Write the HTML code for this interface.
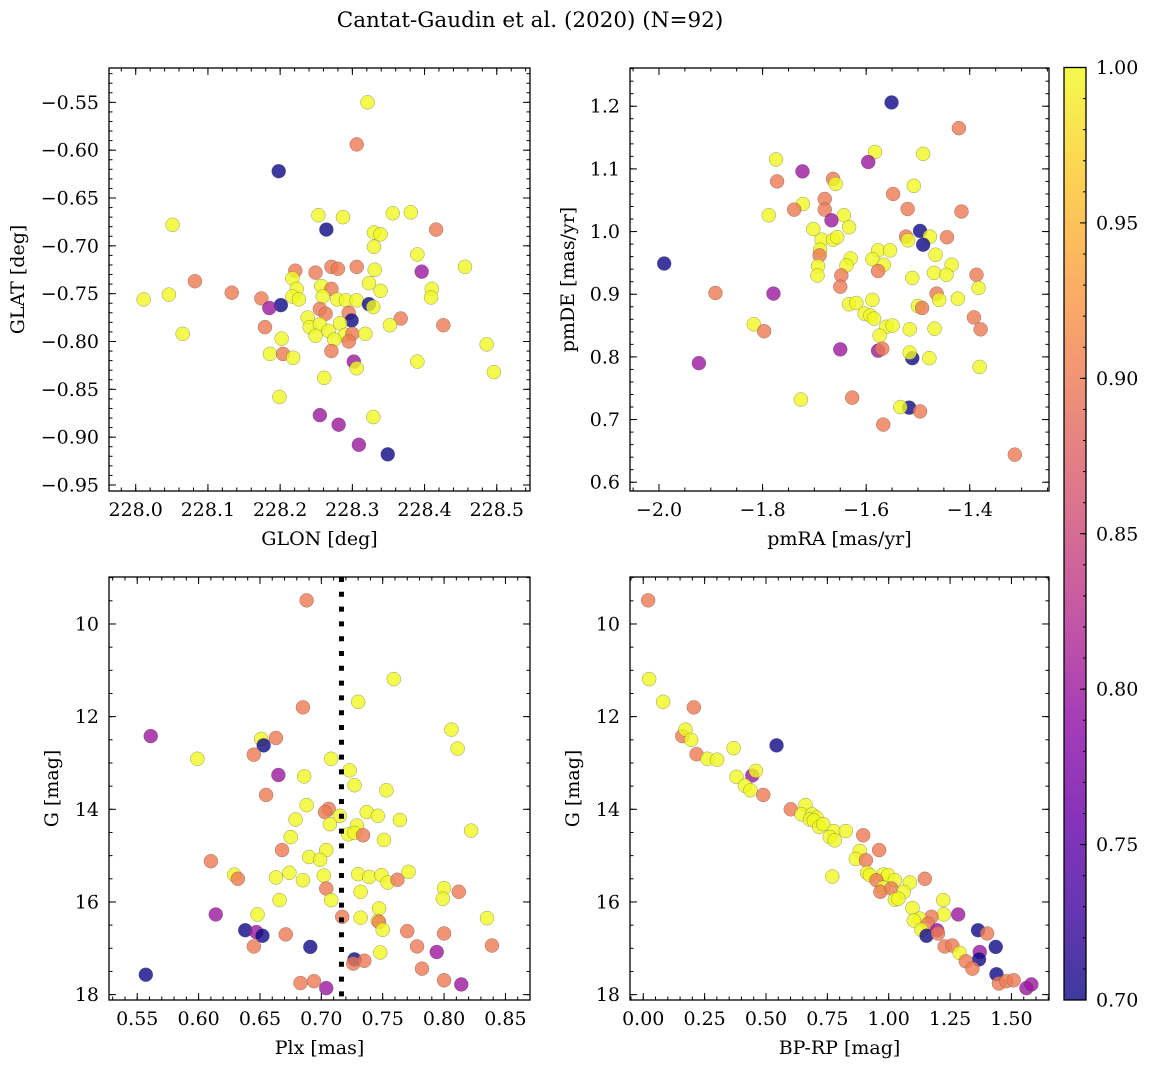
<!DOCTYPE html>
<html><head><meta charset="utf-8"><style>
html,body{margin:0;padding:0;background:#fff;}
svg{display:block;font-family:"DejaVu Serif","Liberation Serif",serif;}
</style></head><body>
<svg id="fig" width="1149" height="1067" viewBox="0 0 1149 1067" xmlns="http://www.w3.org/2000/svg">
<text x="530" y="27" font-size="21.5" text-anchor="middle">Cantat-Gaudin et al. (2020) (N=92)</text>
</svg>
<script>
// ---- Panel 1: GLON vs GLAT ----
const glon = [228.321,228.306,228.198,228.051,228.253,228.287,228.356,228.381,228.264,228.416,228.330,228.339,228.330,228.390,228.456,228.221,228.249,228.271,228.280,228.306,228.331,228.396,228.082,228.217,228.323,228.339,228.410,228.409,228.133,228.046,228.011,228.223,228.257,228.271,228.217,228.226,228.259,228.279,228.291,228.306,228.174,228.201,228.185,228.323,228.329,228.255,228.263,228.295,228.238,228.299,228.283,228.179,228.241,228.255,228.267,228.249,228.290,228.300,228.318,228.367,228.352,228.426,228.065,228.202,228.275,228.295,228.271,228.486,228.186,228.204,228.218,228.302,228.306,228.390,228.496,228.261,228.199,228.255,228.329,228.281,228.309,228.349];
const glat = [-0.550,-0.594,-0.622,-0.678,-0.668,-0.670,-0.666,-0.665,-0.683,-0.683,-0.686,-0.688,-0.701,-0.709,-0.722,-0.726,-0.728,-0.722,-0.724,-0.722,-0.725,-0.727,-0.737,-0.734,-0.739,-0.747,-0.745,-0.754,-0.749,-0.751,-0.756,-0.745,-0.742,-0.745,-0.753,-0.756,-0.753,-0.756,-0.757,-0.757,-0.755,-0.762,-0.765,-0.761,-0.764,-0.766,-0.771,-0.770,-0.775,-0.778,-0.781,-0.785,-0.785,-0.782,-0.789,-0.794,-0.793,-0.792,-0.792,-0.776,-0.783,-0.783,-0.792,-0.797,-0.798,-0.800,-0.810,-0.803,-0.813,-0.813,-0.817,-0.821,-0.828,-0.821,-0.832,-0.838,-0.858,-0.877,-0.879,-0.887,-0.908,-0.918];
const prob1 = [1,0.9,0.7,1,1,1,1,1,0.7,0.9, 1,1,1,1,1,0.9,0.9,0.9,0.9,0.9, 1,0.8,0.9,1,1,1,1,1,0.9,1, 1,1,1,0.9,1,1,1,1,1,1, 0.9,0.7,0.8,0.7,1,0.9,0.9,0.9,1,0.7, 1,0.9,1,1,1,1,1,0.9,1,0.9, 1,0.9,1,1,1,0.9,0.9,1,1,0.9, 1,0.8,1,1,1,1,1,0.8,1,0.8, 0.8,0.7];
// ---- Panel 2: pmRA vs pmDE ----
const pmra = [-1.551,-1.421,-1.583,-1.596,-1.490,-1.774,-1.723,-1.772,-1.664,-1.659,-1.508,-1.548,-1.680,-1.722,-1.739,-1.680,-1.520,-1.416,-1.788,-1.643,-1.667,-1.633,-1.702,-1.496,-1.477,-1.444,-1.523,-1.519,-1.490,-1.686,-1.664,-1.656,-1.689,-1.690,-1.577,-1.554,-1.466,-1.990,-1.630,-1.588,-1.693,-1.638,-1.566,-1.435,-1.577,-1.694,-1.648,-1.469,-1.445,-1.387,-1.511,-1.650,-1.383,-1.891,-1.779,-1.464,-1.459,-1.423,-1.633,-1.619,-1.588,-1.500,-1.492,-1.603,-1.592,-1.585,-1.392,-1.379,-1.817,-1.797,-1.561,-1.549,-1.574,-1.516,-1.468,-1.650,-1.577,-1.569,-1.511,-1.516,-1.478,-1.381,-1.923,-1.726,-1.627,-1.517,-1.534,-1.496,-1.567,-1.313];
const pmde = [1.206,1.165,1.127,1.111,1.124,1.115,1.096,1.080,1.084,1.076,1.073,1.060,1.052,1.044,1.035,1.035,1.036,1.032,1.026,1.026,1.018,1.007,1.004,1.001,0.992,0.991,0.992,0.986,0.979,0.987,0.987,0.991,0.971,0.962,0.970,0.970,0.963,0.949,0.957,0.956,0.945,0.946,0.947,0.947,0.937,0.930,0.930,0.934,0.931,0.931,0.926,0.912,0.910,0.902,0.901,0.901,0.891,0.893,0.884,0.886,0.891,0.881,0.878,0.869,0.866,0.861,0.863,0.844,0.852,0.841,0.848,0.850,0.834,0.844,0.845,0.812,0.810,0.813,0.798,0.807,0.798,0.784,0.790,0.732,0.735,0.719,0.720,0.713,0.692,0.644];
const prob2 = [0.7,0.9,1,0.8,1,1,0.8,0.9,0.9,1, 1,0.9,0.9,1,0.9,0.9,0.9,0.9,1,1, 0.8,1,1,0.7,1,0.9,0.9,1,0.7,1, 1,1,1,0.9,1,1,1,0.7,1,1, 1,1,1,1,0.9,1,0.9,1,1,0.9, 1,0.9,1,0.9,0.8,0.9,1,1,1,1, 1,1,0.9,1,1,1,0.9,0.9,1,0.9, 1,1,1,1,1,0.8,0.8,0.9,0.7,1, 1,1,0.8,1,0.9,0.7,1,0.9,0.9,0.9];
// ---- Panel 3: Plx vs G ----
const plx = [0.688,0.759,0.730,0.685,0.806,0.811,0.561,0.651,0.653,0.663,0.645,0.599,0.708,0.723,0.665,0.686,0.727,0.753,0.655,0.688,0.706,0.703,0.715,0.737,0.746,0.764,0.679,0.707,0.729,0.722,0.727,0.734,0.822,0.675,0.751,0.668,0.704,0.690,0.699,0.610,0.629,0.632,0.663,0.674,0.685,0.702,0.730,0.739,0.749,0.754,0.762,0.771,0.704,0.732,0.800,0.812,0.799,0.708,0.666,0.747,0.614,0.648,0.717,0.732,0.746,0.747,0.750,0.835,0.770,0.800,0.638,0.647,0.652,0.671,0.645,0.691,0.778,0.839,0.794,0.748,0.727,0.726,0.735,0.782,0.557,0.800,0.814,0.683,0.694,0.704];
const gmag3 = [9.49,11.19,11.68,11.80,12.28,12.69,12.42,12.48,12.62,12.46,12.82,12.91,12.91,13.16,13.26,13.29,13.48,13.59,13.69,13.91,13.99,14.06,14.14,14.06,14.14,14.23,14.22,14.32,14.35,14.54,14.51,14.56,14.46,14.60,14.66,14.88,14.88,15.03,15.09,15.12,15.41,15.50,15.47,15.37,15.53,15.43,15.40,15.46,15.42,15.58,15.52,15.35,15.71,15.78,15.70,15.78,15.93,15.96,15.96,16.14,16.27,16.27,16.32,16.34,16.41,16.43,16.60,16.35,16.63,16.68,16.61,16.65,16.73,16.70,16.96,16.97,16.96,16.94,17.08,17.09,17.24,17.33,17.27,17.44,17.57,17.69,17.78,17.75,17.71,17.86];
const prob3 = [0.9,1,1,0.9,1,1,0.8,1,0.7,0.9, 0.9,1,1,1,0.8,1,1,1,0.9,1, 0.9,0.9,1,1,1,1,1,1,1,1, 1,0.9,1,1,1,0.9,1,1,1,0.9, 1,0.9,1,1,1,1,1,1,1,1, 0.9,1,0.9,1,1,0.9,1,1,1,1, 0.8,1,0.9,1,1,0.9,1,1,0.9,0.9, 0.7,0.8,0.7,0.9,0.9,0.7,0.9,0.9,0.8,1, 0.7,0.9,0.9,0.9,0.7,0.9,0.8,0.9,0.9,0.8];
const plxMean = [0.7164];
// ---- Panel 4: BP-RP vs G ----
const bprp = [0.020,0.024,0.081,0.206,0.159,0.172,0.195,0.217,0.261,0.301,0.368,0.543,0.444,0.459,0.380,0.414,0.437,0.489,0.601,0.661,0.645,0.688,0.679,0.706,0.695,0.717,0.733,0.776,0.825,0.760,0.780,0.896,0.961,0.882,0.866,0.907,0.912,0.923,0.977,0.998,1.025,0.950,0.977,0.966,1.011,1.086,1.147,1.061,1.025,1.039,0.770,1.222,1.097,1.224,1.174,1.283,1.126,1.102,1.160,1.133,1.154,1.197,1.201,1.364,1.401,1.436,1.228,1.259,1.289,1.371,1.368,1.314,1.341,1.439,1.449,1.479,1.509,1.561,1.581];
const gmag4 = [9.49,11.19,11.68,11.80,12.42,12.28,12.50,12.81,12.91,12.93,12.68,12.62,13.27,13.17,13.30,13.49,13.59,13.69,14.00,13.91,14.11,14.11,14.22,14.18,14.24,14.38,14.32,14.47,14.47,14.60,14.67,14.56,14.88,14.90,15.07,15.10,15.37,15.42,15.41,15.42,15.53,15.53,15.69,15.78,15.71,15.58,15.50,15.78,15.95,15.93,15.45,15.96,16.13,16.27,16.32,16.27,16.36,16.40,16.47,16.60,16.73,16.61,16.68,16.61,16.68,16.97,16.96,16.94,17.10,17.08,17.24,17.28,17.44,17.56,17.76,17.71,17.69,17.86,17.78];
const prob4 = [0.9,1,1,0.9,0.9,1,1,0.9,1,1, 1,0.7,0.8,1,1,1,1,0.9,0.9,1, 1,1,1,1,1,1,1,1,1,1, 1,0.9,0.9,1,1,0.9,1,1,1,1, 1,0.9,1,0.9,0.9,1,0.9,1,1,1, 1,1,1,1,0.9,0.8,1,1,0.9,1, 0.7,0.8,0.9,0.7,0.9,0.7,0.9,0.9,1,0.8, 0.7,0.9,0.9,0.7,0.9,0.9,0.9,0.8,0.8];
// ---- tick labels ----
const ticks1x = [228.0,228.1,228.2,228.3,228.4,228.5];
const ticks1y = [-0.95,-0.90,-0.85,-0.80,-0.75,-0.70,-0.65,-0.60,-0.55];
const ticks2x = [-2.0,-1.8,-1.6,-1.4];
const ticks2y = [0.6,0.7,0.8,0.9,1.0,1.1,1.2];
const ticks3x = [0.55,0.60,0.65,0.70,0.75,0.80,0.85];
const ticksG = [10,12,14,16,18];
const ticks4x = [0.00,0.25,0.50,0.75,1.00,1.25,1.50];
const ticksCbar = [0.70,0.75,0.80,0.85,0.90,0.95,1.00];

const NS = "http://www.w3.org/2000/svg";
const svg = document.getElementById('fig');
function el(tag, attrs, parent){const e=document.createElementNS(NS,tag);for(const k in attrs)e.setAttribute(k,attrs[k]);(parent||svg).appendChild(e);return e;}
const plasma=["#0d0887","#41049d","#6a00a8","#8f0da4","#b12a90","#cc4778","#e16462","#f2844b","#fca636","#fcce25","#f0f921"];
function hex(h){return [parseInt(h.slice(1,3),16),parseInt(h.slice(3,5),16),parseInt(h.slice(5,7),16)];}
function cmap(p){let t=Math.max(0,Math.min(1,(p-0.7)/0.3))*10;const i=Math.min(9,Math.floor(t)),f=t-i;const a=hex(plasma[i]),b=hex(plasma[i+1]);return 'rgb('+a.map((v,k)=>Math.round(v+(b[k]-v)*f)).join(',')+')';}
function fmt(v,d){return (v<0?'\u2212':'')+Math.abs(v).toFixed(d);}

function panel(cfg){
  const {name,L,R,T,B,x0,x1,y0,y1,xs,ys,ps,xt,yt,xd,yd,xminor,yminor,xlabel,ylabel,ylabx,invert}=cfg;
  const sx=v=>L+(v-x0)/(x1-x0)*(R-L);
  const sy=invert?(v=>T+(v-y0)/(y1-y0)*(B-T)):(v=>B-(v-y0)/(y1-y0)*(B-T));
  const g=el('g',{});
  
  
  const clipId=name+'-clip';
  const cp=el('clipPath',{id:clipId},g);el('rect',{x:L,y:T,width:R-L,height:B-T},cp);
  const pts=el('g',{'clip-path':'url(#'+clipId+')'},g);
  for(let i=0;i<xs.length;i++){
    const c=el('circle',{cx:sx(xs[i]).toFixed(2),cy:sy(ys[i]).toFixed(2),r:7,fill:cmap(ps[i]),'fill-opacity':0.8,stroke:'#555','stroke-width':0.5,'stroke-opacity':0.6},pts);
    
    
  }
  if(cfg.vline!==undefined){
    const vl=el('line',{x1:sx(cfg.vline),x2:sx(cfg.vline),y1:T,y2:B,stroke:'#000','stroke-width':5,'stroke-dasharray':'5 9.8'},g);
    
    
  }
  const tk=el('g',{stroke:'#000','stroke-width':1},g);
  const xmin=Math.ceil(Math.min(x0,x1)/xminor-1e-6),xmax=Math.floor(Math.max(x0,x1)/xminor+1e-6);
  for(let k=xmin;k<=xmax;k++){const x=sx(k*xminor);el('line',{x1:x,x2:x,y1:B,y2:B-3.5},tk);el('line',{x1:x,x2:x,y1:T,y2:T+3.5},tk);}
  const ymn=Math.ceil(Math.min(y0,y1)/yminor-1e-6),ymx=Math.floor(Math.max(y0,y1)/yminor+1e-6);
  for(let k=ymn;k<=ymx;k++){const y=sy(k*yminor);el('line',{x1:L,x2:L+3.5,y1:y,y2:y},tk);el('line',{x1:R,x2:R-3.5,y1:y,y2:y},tk);}
  xt.forEach(v=>{const x=sx(v);el('line',{x1:x,x2:x,y1:B,y2:B-7},tk);el('line',{x1:x,x2:x,y1:T,y2:T+7},tk);
    const t=el('text',{x:x,y:B+25,'font-size':19,'text-anchor':'middle'},g);t.textContent=fmt(v,xd);
    
    });
  yt.forEach(v=>{const y=sy(v);el('line',{x1:L,x2:L+7,y1:y,y2:y},tk);el('line',{x1:R,x2:R-7,y1:y,y2:y},tk);
    const t=el('text',{x:L-10,y:y+6.5,'font-size':19,'text-anchor':'end'},g);t.textContent=fmt(v,yd);
    
    });
  const fr=el('rect',{x:L,y:T,width:R-L,height:B-T,fill:'none',stroke:'#000','stroke-width':1.3},g);
  
  
  const xl=el('text',{x:(L+R)/2,y:B+54,'font-size':19,'text-anchor':'middle'},g);xl.textContent=xlabel;
  
  
  const yl=el('text',{x:ylabx,y:(T+B)/2,'font-size':19,'text-anchor':'middle',transform:'rotate(-90 '+ylabx+' '+(T+B)/2+')'},g);yl.textContent=ylabel;
  
  
}
panel({name:'panel-glon-glat',L:109,R:530,T:68,B:491,x0:227.963,x1:228.546,y0:-0.9563,y1:-0.5141,xs:glon,ys:glat,ps:prob1,xt:ticks1x,yt:ticks1y,xd:1,yd:2,xminor:0.02,yminor:0.01,xlabel:'GLON [deg]',ylabel:'GLAT [deg]',ylabx:24});
panel({name:'panel-pm',L:630,R:1049,T:68,B:491,x0:-2.056,x1:-1.247,y0:0.586,y1:1.261,xs:pmra,ys:pmde,ps:prob2,xt:ticks2x,yt:ticks2y,xd:1,yd:1,xminor:0.05,yminor:0.02,xlabel:'pmRA [mas/yr]',ylabel:'pmDE [mas/yr]',ylabx:574});
panel({name:'panel-plx-g',L:109,R:530,T:577,B:1000,x0:0.527,x1:0.870,y0:8.986,y1:18.116,invert:true,xs:plx,ys:gmag3,ps:prob3,xt:ticks3x,yt:ticksG,xd:2,yd:0,xminor:0.01,yminor:0.5,xlabel:'Plx [mas]',ylabel:'G [mag]',ylabx:58,vline:plxMean[0]});
panel({name:'panel-cmd',L:630,R:1049,T:577,B:1000,x0:-0.054,x1:1.653,y0:8.986,y1:18.116,invert:true,xs:bprp,ys:gmag4,ps:prob4,xt:ticks4x,yt:ticksG,xd:2,yd:0,xminor:0.05,yminor:0.5,xlabel:'BP-RP [mag]',ylabel:'G [mag]',ylabx:579});

(function(){
  const L=1064,R=1086,T=67.5,B=1000,v0=0.70,v1=1.00;
  const sy=v=>B-(v-v0)/(v1-v0)*(B-T);
  const defs=el('defs',{});
  const lg=el('linearGradient',{id:'cbg',x1:0,y1:1,x2:0,y2:0},defs);
  plasma.forEach((c,i)=>el('stop',{offset:(i/10),'stop-color':c},lg));
  const g=el('g',{});
  
  
  el('rect',{x:L,y:T,width:R-L,height:B-T,fill:'url(#cbg)','fill-opacity':0.8},g);
  el('rect',{x:L,y:T,width:R-L,height:B-T,fill:'none',stroke:'#000','stroke-width':1.3},g);
  for(let k=70;k<=100;k++){const y=sy(k/100);el('line',{x1:R,x2:R-3,y1:y,y2:y,stroke:'#000','stroke-width':1},g);}
  ticksCbar.forEach(v=>{const y=sy(v);el('line',{x1:R,x2:R-6,y1:y,y2:y,stroke:'#000','stroke-width':1},g);
    const t=el('text',{x:1096,y:y+6.5,'font-size':19},g);t.textContent=v.toFixed(2);
    
    });
})();
</script>
</body></html>
